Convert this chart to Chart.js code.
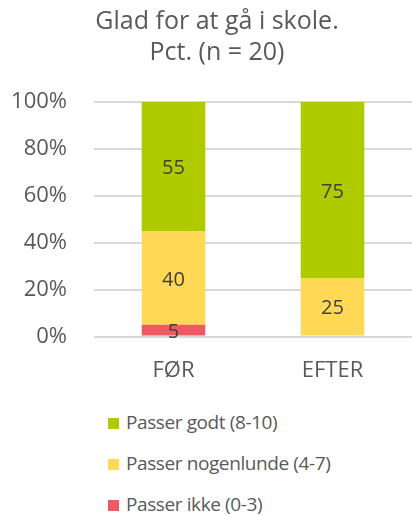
<!DOCTYPE html>
<html>
<head>
<meta charset="utf-8">
<script src="https://cdn.jsdelivr.net/npm/chart.js@4"></script>
<style>
  html, body { margin: 0; padding: 0; background: #ffffff; }
  #wrap { position: relative; width: 412px; height: 515px; overflow: hidden; }
  #chartBox { position: absolute; left: 0; top: 0; width: 412px; height: 395px; }
  #legend { position: absolute; left: 108px; top: 401px; font-family: "Open Sans", sans-serif; font-size: 19px; letter-spacing: -0.4px; color: #595959; }
  .item { height: 41px; display: flex; align-items: center; white-space: nowrap; }
  .swatch { width: 11px; height: 11px; margin-right: 7px; margin-top: 3px; flex: none; }
</style>
</head>
<body>
<div id="wrap">
  <div id="chartBox"><canvas id="c"></canvas></div>
  <div id="legend"></div>
</div>
<script>
const titleLines = ['Glad for at gå i skole.', 'Pct. (n = 20)'];
const categories = ['FØR', 'EFTER'];
const passerIkke = [5, 0];
const passerNogenlunde = [40, 25];
const passerGodt = [55, 75];
const seriesNames = ['Passer ikke (0-3)', 'Passer nogenlunde (4-7)', 'Passer godt (8-10)'];
const seriesColors = ['#EE5A62', '#FFD956', '#AECB00'];

const FONT = '"Open Sans", sans-serif';
const TEXT = '#595959';

const valueLabels = {
  id: 'valueLabels',
  afterDatasetsDraw(chart) {
    const ctx = chart.ctx;
    ctx.save();
    ctx.font = '20px ' + FONT;
    ctx.fillStyle = '#404040';
    ctx.textAlign = 'center';
    ctx.textBaseline = 'middle';
    chart.data.datasets.forEach((ds, di) => {
      const meta = chart.getDatasetMeta(di);
      meta.data.forEach((el, i) => {
        const v = ds.data[i];
        if (!v) return;
        ctx.fillText(String(v), el.x, (el.y + el.base) / 2 + 2);
      });
    });
    ctx.restore();
  }
};

// The reference centres its title slightly right of the canvas centre
const titleShift = {
  id: 'titleShift',
  afterLayout(chart) {
    if (chart.titleBlock) { chart.titleBlock.left = 22; }
  }
};

const chart = new Chart(document.getElementById('c'), {
  type: 'bar',
  data: {
    labels: categories,
    datasets: [
      { label: seriesNames[0], data: passerIkke, backgroundColor: seriesColors[0] },
      { label: seriesNames[1], data: passerNogenlunde, backgroundColor: seriesColors[1] },
      { label: seriesNames[2], data: passerGodt, backgroundColor: seriesColors[2] }
    ]
  },
  options: {
    responsive: true,
    maintainAspectRatio: false,
    animation: false,
    devicePixelRatio: 1,
    layout: { padding: { left: 0, right: 0, top: 0, bottom: 0 } },
    datasets: { bar: { barPercentage: 0.4, categoryPercentage: 1.0, borderWidth: 0 } },
    plugins: {
      legend: { display: false },
      tooltip: { enabled: false },
      title: {
        display: true,
        text: titleLines,
        color: TEXT,
        font: { family: FONT, size: 25, weight: 'normal', lineHeight: 1.24 },
        padding: { top: 6.5, bottom: 33.5 }
      }
    },
    scales: {
      x: {
        stacked: true,
        grid: { display: false, drawTicks: false },
        border: { display: false },
        ticks: { color: TEXT, font: { family: FONT, size: 22 }, padding: 21.5 },
        afterFit(axis) { axis.height = 58.5; }
      },
      y: {
        stacked: true,
        min: 0,
        max: 100,
        grid: { color: '#D9D9D9', lineWidth: 2, drawTicks: false },
        border: { display: false },
        ticks: {
          stepSize: 20,
          color: TEXT,
          padding: 27,
          font: { family: FONT, size: 22 },
          callback: (v) => v + '%'
        },
        afterFit(axis) { axis.width = 94; }
      }
    }
  },
  plugins: [valueLabels, titleShift]
});

// HTML legend built from the chart's datasets (top series first)
const legendEl = document.getElementById('legend');
chart.data.datasets.slice().reverse().forEach(ds => {
  const row = document.createElement('div');
  row.className = 'item';
  const sw = document.createElement('span');
  sw.className = 'swatch';
  sw.style.background = ds.backgroundColor;
  const tx = document.createElement('span');
  tx.textContent = ds.label;
  row.appendChild(sw);
  row.appendChild(tx);
  legendEl.appendChild(row);
});
</script>
</body>
</html>
